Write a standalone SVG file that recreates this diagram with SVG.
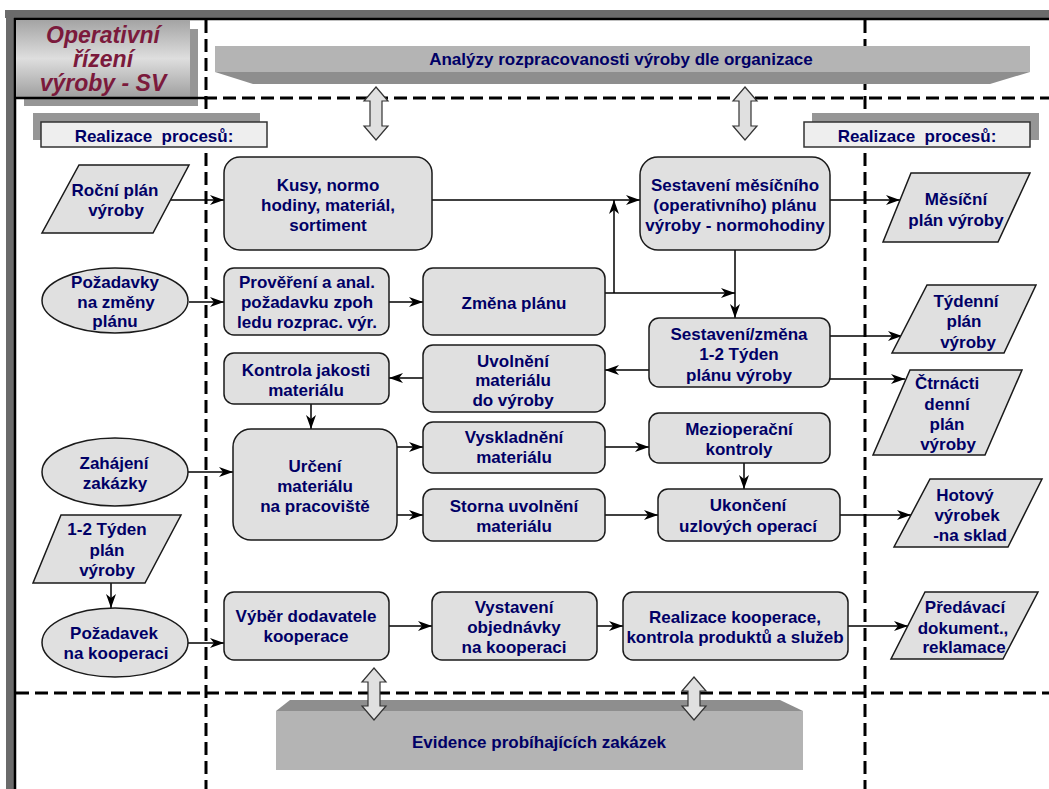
<svg xmlns="http://www.w3.org/2000/svg" width="1049" height="789" viewBox="0 0 1049 789">
<style>
.node{fill:#e0e0e0;stroke:#1a1a1a;stroke-width:1.5}
.t{font-family:"Liberation Sans",Arial,sans-serif;font-weight:bold;font-size:17px;fill:#000066;text-anchor:middle}
.dash{stroke:#000;stroke-width:3;stroke-dasharray:13 6;fill:none}
.conn{stroke:#000;stroke-width:1.5;fill:none;marker-end:url(#ah)}
.dbl{fill:#e0e0e0;stroke:#333;stroke-width:1.2}
.lbl{fill:#eeeeee;stroke:#333;stroke-width:1.5}
.shadow{fill:#969696}
.title{font-family:"Liberation Sans",Arial,sans-serif;font-weight:bold;font-style:italic;font-size:23px;fill:#7b1a3c;text-anchor:middle}
</style>
<defs>
<marker id="ah" markerUnits="userSpaceOnUse" markerWidth="14" markerHeight="10" refX="14" refY="5" orient="auto">
<path d="M0,0 L14,5 L0,10 L4,5 Z" fill="#000"/>
</marker>
<linearGradient id="tg" x1="0" y1="0" x2="0" y2="1">
<stop offset="0" stop-color="#a4a4a4"/>
<stop offset="0.5" stop-color="#dedede"/>
<stop offset="1" stop-color="#a0a0a0"/>
</linearGradient>
</defs>
<rect x="0" y="0" width="1049" height="789" fill="#fff"/>
<g id="frame">
<rect x="5" y="10" width="1044" height="8" fill="#6b6b6b"/>
<rect x="6" y="10" width="8" height="779" fill="#6b6b6b"/>
<line x1="14" y1="19" x2="1049" y2="19" stroke="#000" stroke-width="2.5"/>
<line x1="15" y1="18" x2="15" y2="789" stroke="#000" stroke-width="2.5"/>
<line class="dash" x1="206" y1="20" x2="206" y2="789"/>
<line class="dash" x1="865" y1="20" x2="865" y2="789"/>
<line class="dash" x1="204" y1="98" x2="1049" y2="98"/>
<line class="dash" x1="16" y1="693" x2="1049" y2="693"/>
</g>
<g id="title">
<rect class="shadow" x="24" y="29" width="174" height="77" fill="#8c8c8c"/>
<rect x="16" y="20" width="174" height="77" fill="url(#tg)"/>
<line x1="15" y1="98" x2="204" y2="98" stroke="#000" stroke-width="2.5"/>
<text class="title"><tspan x="103" y="43">Operativní</tspan><tspan x="103" y="67">řízení</tspan><tspan x="103" y="91">výroby - SV</tspan></text>
</g>
<g id="banner">
<rect x="215" y="46" width="815" height="26" fill="#b4b4b4"/>
<polygon points="215,72 1030,72 990,84 253,84" fill="#8e8e8e"/>
<text class="t" x="621" y="65">Analýzy rozpracovanosti výroby dle organizace</text>
</g>
<g id="evidence">
<polygon points="276,711 290,700 780,700 803,711" fill="#8e8e8e"/>
<rect x="276" y="711" width="527" height="59" fill="#b4b4b4"/>
<text class="t" x="539" y="748">Evidence probíhajících zakázek</text>
</g>
<g id="label-left">
<rect class="shadow" x="33" y="113" width="227" height="27"/>
<rect class="lbl" x="41" y="122" width="226" height="25"/>
<text class="t" x="154" y="142" xml:space="preserve">Realizace  procesů:</text>
</g>
<g id="label-right">
<rect class="shadow" x="812" y="113" width="227" height="27"/>
<rect class="lbl" x="804" y="122" width="226" height="25"/>
<text class="t" x="917" y="142" xml:space="preserve">Realizace  procesů:</text>
</g>
<g id="connectors">
<path class="conn" d="M171,200 H224"/>
<path class="conn" d="M432,200 H640"/>
<path class="conn" d="M614,293 V200"/>
<path class="conn" d="M605,293 H735"/>
<path class="conn" d="M735,250 V318"/>
<path class="conn" d="M189,302 H224"/>
<path class="conn" d="M389,302 H423"/>
<path class="conn" d="M649,370 H605"/>
<path class="conn" d="M423,378 H389"/>
<path class="conn" d="M311,404 V429"/>
<path class="conn" d="M397,447 H423"/>
<path class="conn" d="M397,515 H423"/>
<path class="conn" d="M605,447 H649"/>
<path class="conn" d="M744,463 V489"/>
<path class="conn" d="M605,515 H658"/>
<path class="conn" d="M840,515 H911"/>
<path class="conn" d="M830,200 H900"/>
<path class="conn" d="M830,336 H902"/>
<path class="conn" d="M830,379 H905"/>
<path class="conn" d="M188,472 H233"/>
<path class="conn" d="M111,583 V608"/>
<path class="conn" d="M188,643 H224"/>
<path class="conn" d="M389,626 H432"/>
<path class="conn" d="M597,626 H623"/>
<path class="conn" d="M848,626 H908"/>
</g>
<g id="double-arrows">
<polygon class="dbl" points="376,87 388,101 382,101 382,126 388,126 376,140 364,126 370,126 370,101 364,101"/>
<polygon class="dbl" points="745,87 757,101 751,101 751,126 757,126 745,140 733,126 739,126 739,101 733,101"/>
<polygon class="dbl" points="374,668 386,682 380,682 380,706 386,706 374,720 362,706 368,706 368,682 362,682"/>
<polygon class="dbl" points="694,677 706,691 700,691 700,706 706,706 694,720 682,706 688,706 688,691 682,691"/>
</g>
<g id="n-rocni">
<polygon class="node" points="79,165 189,165 153,233 42,233"/>
<text class="t"><tspan x="115" y="196">Roční plán</tspan><tspan x="116" y="216">výroby</tspan></text>
</g>
<g id="n-kusy">
<rect class="node" x="224" y="157" width="208" height="93" rx="16"/>
<text class="t"><tspan x="328" y="191">Kusy, normo</tspan><tspan x="328" y="211">hodiny, materiál,</tspan><tspan x="328" y="231">sortiment</tspan></text>
</g>
<g id="n-sestaveni-mesicni">
<rect class="node" x="640" y="157" width="190" height="93" rx="18"/>
<text class="t"><tspan x="735" y="191">Sestavení měsíčního</tspan><tspan x="735" y="211">(operativního) plánu</tspan><tspan x="735" y="231">výroby - normohodiny</tspan></text>
</g>
<g id="n-mesicni">
<polygon class="node" points="911,173 1030,173 998,242 883,242"/>
<text class="t"><tspan x="956" y="205">Měsíční</tspan><tspan x="956" y="226">plán výroby</tspan></text>
</g>
<g id="n-pozadavky">
<ellipse class="node" cx="115" cy="300.5" rx="73" ry="32.5"/>
<text class="t"><tspan x="115" y="288">Požadavky</tspan><tspan x="116" y="308">na změny</tspan><tspan x="115" y="327">plánu</tspan></text>
</g>
<g id="n-provereni">
<rect class="node" x="224" y="268" width="165" height="67" rx="10"/>
<text class="t"><tspan x="307" y="288">Prověření a anal.</tspan><tspan x="307" y="308">požadavku zpoh</tspan><tspan x="307" y="328">ledu rozprac. výr.</tspan></text>
</g>
<g id="n-zmena">
<rect class="node" x="423" y="268" width="182" height="67" rx="10"/>
<text class="t" x="514" y="309">Změna plánu</text>
</g>
<g id="n-sestaveni-zmena">
<rect class="node" x="649" y="318" width="181" height="69" rx="10"/>
<text class="t"><tspan x="739" y="340">Sestavení/změna</tspan><tspan x="739" y="360">1-2 Týden</tspan><tspan x="739" y="381">plánu výroby</tspan></text>
</g>
<g id="n-tydenni">
<polygon class="node" points="927,285 1036,285 1004,353 892,353"/>
<text class="t"><tspan x="966" y="307">Týdenní</tspan><tspan x="964" y="327">plán</tspan><tspan x="968" y="348">výroby</tspan></text>
</g>
<g id="n-ctrnacti">
<polygon class="node" points="910,370 1022,370 985,455 873,455"/>
<text class="t"><tspan x="947" y="389">Čtrnácti</tspan><tspan x="947" y="410">denní</tspan><tspan x="947" y="430">plán</tspan><tspan x="948" y="450">výroby</tspan></text>
</g>
<g id="n-kontrola">
<rect class="node" x="224" y="353" width="165" height="51" rx="10"/>
<text class="t"><tspan x="306" y="376">Kontrola jakosti</tspan><tspan x="306" y="396">materiálu</tspan></text>
</g>
<g id="n-uvolneni">
<rect class="node" x="423" y="345" width="182" height="67" rx="10"/>
<text class="t"><tspan x="513" y="367">Uvolnění</tspan><tspan x="513" y="386">materiálu</tspan><tspan x="513" y="406">do výroby</tspan></text>
</g>
<g id="n-urceni">
<rect class="node" x="233" y="429" width="164" height="111" rx="18"/>
<text class="t"><tspan x="315" y="472">Určení</tspan><tspan x="315" y="492">materiálu</tspan><tspan x="315" y="512">na pracoviště</tspan></text>
</g>
<g id="n-vyskladneni">
<rect class="node" x="423" y="422" width="182" height="51" rx="10"/>
<text class="t"><tspan x="514" y="443">Vyskladnění</tspan><tspan x="514" y="463">materiálu</tspan></text>
</g>
<g id="n-mezioperacni">
<rect class="node" x="649" y="413" width="181" height="50" rx="10"/>
<text class="t"><tspan x="739" y="435">Mezioperační</tspan><tspan x="739" y="455">kontroly</tspan></text>
</g>
<g id="n-storna">
<rect class="node" x="423" y="489" width="182" height="52" rx="10"/>
<text class="t"><tspan x="514" y="512">Storna uvolnění</tspan><tspan x="514" y="532">materiálu</tspan></text>
</g>
<g id="n-ukonceni">
<rect class="node" x="658" y="489" width="182" height="52" rx="10"/>
<text class="t"><tspan x="748" y="511">Ukončení</tspan><tspan x="748" y="532">uzlových operací</tspan></text>
</g>
<g id="n-hotovy">
<polygon class="node" points="930,479 1042,479 1008,547 894,547"/>
<text class="t"><tspan x="965" y="501">Hotový</tspan><tspan x="967" y="521">výrobek</tspan><tspan x="970" y="541">-na sklad</tspan></text>
</g>
<g id="n-zahajeni">
<ellipse class="node" cx="115" cy="472" rx="73" ry="34"/>
<text class="t"><tspan x="114" y="469">Zahájení</tspan><tspan x="115" y="489">zakázky</tspan></text>
</g>
<g id="n-tyden-plan">
<polygon class="node" points="61,515 181,515 145,583 33,583"/>
<text class="t"><tspan x="107" y="535">1-2 Týden</tspan><tspan x="107" y="556">plán</tspan><tspan x="107" y="576">výroby</tspan></text>
</g>
<g id="n-pozadavek">
<ellipse class="node" cx="115" cy="642.5" rx="73" ry="34.5"/>
<text class="t"><tspan x="114" y="639">Požadavek</tspan><tspan x="116" y="659">na kooperaci</tspan></text>
</g>
<g id="n-vyber">
<rect class="node" x="224" y="592" width="165" height="68" rx="10"/>
<text class="t"><tspan x="306" y="622">Výběr dodavatele</tspan><tspan x="306" y="642">kooperace</tspan></text>
</g>
<g id="n-vystaveni">
<rect class="node" x="432" y="592" width="165" height="68" rx="10"/>
<text class="t"><tspan x="514" y="613">Vystavení</tspan><tspan x="514" y="633">objednávky</tspan><tspan x="514" y="653">na kooperaci</tspan></text>
</g>
<g id="n-realizace">
<rect class="node" x="623" y="592" width="225" height="68" rx="10"/>
<text class="t"><tspan x="735" y="623">Realizace kooperace,</tspan><tspan x="735" y="643">kontrola produktů a služeb</tspan></text>
</g>
<g id="n-predavaci">
<polygon class="node" points="925,592 1038,592 1003,659 891,659"/>
<text class="t"><tspan x="965" y="613">Předávací</tspan><tspan x="963" y="634">dokument.,</tspan><tspan x="964" y="653">reklamace</tspan></text>
</g>
</svg>
